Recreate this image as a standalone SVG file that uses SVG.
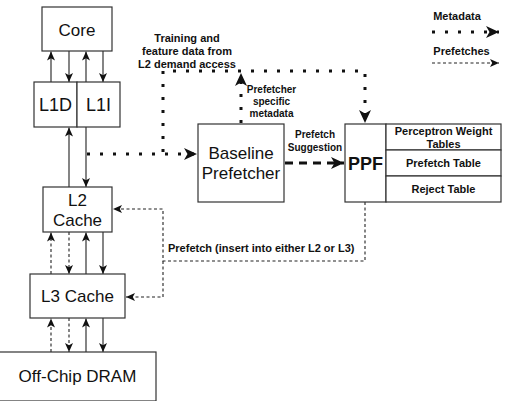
<svg xmlns="http://www.w3.org/2000/svg" width="506" height="401" viewBox="0 0 506 401">
<defs>
<style>
.box{fill:#fff;stroke:#333;stroke-width:1.2}
.t{font-family:"Liberation Sans",Arial,Helvetica,sans-serif;fill:#111;text-anchor:middle}
.big{font-size:17px}
.lb{font-size:11px;font-weight:bold}
.sm{font-size:10px;font-weight:bold}
.solid{fill:none;stroke:#333;stroke-width:1.2}
.dash{fill:none;stroke:#222;stroke-width:1.1;stroke-dasharray:3 2.5}
.dot{fill:none;stroke:#111;stroke-width:3;stroke-dasharray:3 10}
.thick{fill:none;stroke:#111;stroke-width:3;stroke-dasharray:8 6}
</style>
<marker id="a" markerUnits="userSpaceOnUse" markerWidth="9" markerHeight="9" viewBox="0 0 9 9" refX="9" refY="4.5" orient="auto">
<path d="M0,0.5 L9,4.5 L0,8.5 L2.2,4.5 Z" fill="#111"/>
</marker>
<marker id="b" markerUnits="userSpaceOnUse" markerWidth="13" markerHeight="13" viewBox="0 0 13 13" refX="13" refY="6.5" orient="auto">
<path d="M0,0.5 L13,6.5 L0,12.5 L3.5,6.5 Z" fill="#111"/>
</marker>
</defs>

<g id="connectors">
<!-- Core <-> L1 -->
<path class="solid" d="M51,82 V51.5" marker-end="url(#a)"/>
<path class="solid" d="M69,51 V82" marker-end="url(#a)"/>
<path class="solid" d="M86,82 V51.5" marker-end="url(#a)"/>
<path class="solid" d="M103,51 V82" marker-end="url(#a)"/>
<!-- L1 <-> L2 -->
<path class="solid" d="M69,187 V127.5" marker-end="url(#a)"/>
<path class="solid" d="M86,127 V187" marker-end="url(#a)"/>
<!-- L2 <-> L3 -->
<path class="dash" d="M51,274 V232.5" marker-end="url(#a)"/>
<path class="dash" d="M69,232 V274" marker-end="url(#a)"/>
<path class="solid" d="M86,274 V232.5" marker-end="url(#a)"/>
<path class="solid" d="M103,232 V274" marker-end="url(#a)"/>
<!-- L3 <-> DRAM -->
<path class="dash" d="M51,352 V318.5" marker-end="url(#a)"/>
<path class="dash" d="M69,318 V352" marker-end="url(#a)"/>
<path class="solid" d="M86,352 V318.5" marker-end="url(#a)"/>
<path class="solid" d="M103,318 V352" marker-end="url(#a)"/>
<!-- metadata dotted -->
<path class="dot" d="M87,154 H197" marker-end="url(#b)"/>
<path class="dot" d="M163,152 V71 H365 V123" marker-end="url(#b)"/>
<path class="dot" d="M241,123 V73" marker-end="url(#b)"/>
<!-- prefetch suggestion -->
<path class="thick" d="M285,163 H344" marker-end="url(#b)"/>
<!-- prefetch insert -->
<path class="dash" d="M365,202 V261 H163 V209 H113" marker-end="url(#a)"/>
<path class="dash" d="M163,261 V297 H126" marker-end="url(#a)"/>
<!-- legend -->
<path class="dot" d="M432,32 H499" marker-end="url(#b)"/>
<path class="dash" d="M432,63 H499" marker-end="url(#a)"/>
</g>

<g id="core"><rect class="box" x="42" y="7" width="70" height="44"/><text class="t big" x="77" y="35.5">Core</text></g>
<g id="l1d"><rect class="box" x="34" y="82" width="43" height="45"/><text class="t big" x="55.5" y="111" style="font-size:18px">L1D</text></g>
<g id="l1i"><rect class="box" x="77" y="82" width="43" height="45"/><text class="t big" x="98.5" y="111" style="font-size:18px">L1I</text></g>
<g id="l2"><rect class="box" x="43" y="187" width="69" height="45"/><text class="t big" x="77.5" y="206">L2</text><text class="t big" x="77.5" y="226">Cache</text></g>
<g id="l3"><rect class="box" x="30" y="274" width="95" height="44"/><text class="t big" x="77.5" y="302">L3 Cache</text></g>
<g id="dram"><rect class="box" x="-1" y="352" width="157" height="49"/><text class="t big" x="77.5" y="382">Off-Chip DRAM</text></g>
<g id="baseline"><rect class="box" x="198" y="124" width="86" height="78"/><text class="t big" x="241" y="158.5">Baseline</text><text class="t big" x="241" y="179">Prefetcher</text></g>
<g id="ppf"><rect class="box" x="345" y="124" width="41" height="78"/><text class="t" x="365.5" y="170" style="font-size:18px;font-weight:bold">PPF</text></g>
<g id="tables">
<rect class="box" x="386" y="124" width="115" height="26"/>
<rect class="box" x="386" y="150" width="115" height="26"/>
<rect class="box" x="386" y="176" width="115" height="26"/>
<text class="t lb" x="443.5" y="135">Perceptron Weight</text>
<text class="t lb" x="443.5" y="148">Tables</text>
<text class="t lb" x="443.5" y="167">Prefetch Table</text>
<text class="t lb" x="443.5" y="193">Reject Table</text>
</g>

<g id="labels">
<text class="t lb" x="187" y="42">Training and</text>
<text class="t lb" x="187" y="55">feature data from</text>
<text class="t lb" x="187" y="68">L2 demand access</text>
<text class="t sm" x="271.5" y="93">Prefetcher</text>
<text class="t sm" x="271.5" y="105">specific</text>
<text class="t sm" x="271.5" y="117">metadata</text>
<text class="t sm" x="315" y="138">Prefetch</text>
<text class="t sm" x="315" y="150.5">Suggestion</text>
<text class="t lb" x="168" y="252" style="text-anchor:start">Prefetch (insert into either L2 or L3)</text>
<text class="t lb" x="457" y="20">Metadata</text>
<text class="t lb" x="461.5" y="55">Prefetches</text>
</g>
</svg>
